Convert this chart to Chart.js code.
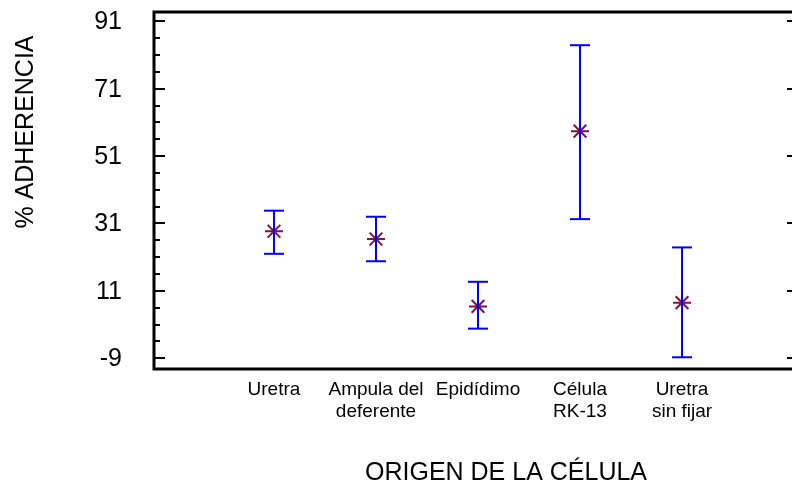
<!DOCTYPE html>
<html>
<head>
<meta charset="utf-8">
<script src="https://cdn.jsdelivr.net/npm/chart.js@4/dist/chart.umd.min.js"></script>
<style>
  html, body { margin: 0; padding: 0; background: #fff; }
  canvas { display: block; }
</style>
</head>
<body>
<canvas id="adhChart" width="792" height="489"></canvas>
<script>
// --- data ---
const categories = ['Uretra', ['Ampula del', 'deferente'], 'Epidídimo', ['Célula', 'RK-13'], ['Uretra', 'sin fijar']];
const means = [28.7, 26.4, 6.4, 58.4, 7.5];
const lower = [22.0, 19.8, -0.2, 32.3, -8.7];
const upper = [34.8, 33.0, 13.7, 83.9, 23.9];
const yTicks = [-9, 11, 31, 51, 71, 91];
const yMinorStep = 5;

const FONT = '"Liberation Sans", Arial, sans-serif';
const BLUE = '#0000ff';
const STAR = '#80104a';

// one small dataset per error bar (low -> high), caps drawn as 'line' points
const barSets = categories.map((c, i) => ({
    type: 'line',
    data: [{ x: i + 1, y: lower[i] }, { x: i + 1, y: upper[i] }],
    borderColor: BLUE,
    borderWidth: 2,
    pointStyle: 'line',
    pointRadius: 10,
    pointBorderColor: BLUE,
    pointBorderWidth: 2,
    pointHoverRadius: 10,
    fill: false,
    tension: 0
}));

const starSet = {
    type: 'scatter',
    data: means.map((m, i) => ({ x: i + 1, y: m })),
    pointStyle: 'star',
    pointRadius: 9,
    pointBorderColor: STAR,
    pointBorderWidth: 2,
    pointHoverRadius: 9
};

// frame, ticks, labels and titles
const framePlugin = {
    id: 'frame',
    afterDraw(chart) {
        const { ctx, chartArea: a, scales } = chart;
        const y = scales.y, x = scales.x;
        ctx.save();
        ctx.strokeStyle = '#000';
        ctx.lineWidth = 3;
        ctx.beginPath();
        ctx.moveTo(chart.width, a.top); ctx.lineTo(a.left, a.top);
        ctx.lineTo(a.left, a.bottom); ctx.lineTo(chart.width, a.bottom);
        ctx.stroke();

        // minor ticks every 5 on the left, major ones on both sides
        ctx.lineWidth = 2;
        ctx.beginPath();
        for (let v = yTicks[0]; v <= yTicks[yTicks.length - 1]; v += yMinorStep) {
            const py = Math.round(y.getPixelForValue(v));
            const major = yTicks.includes(v);
            ctx.moveTo(a.left, py); ctx.lineTo(a.left + (major ? 11 : 6), py);
            if (major) { ctx.moveTo(a.right, py); ctx.lineTo(a.right - 5, py); }
        }
        ctx.stroke();

        // y tick labels
        ctx.fillStyle = '#000';
        ctx.font = '25px ' + FONT;
        ctx.textAlign = 'right';
        ctx.textBaseline = 'middle';
        yTicks.forEach(v => ctx.fillText(String(v), 122, y.getPixelForValue(v) + 1));

        // category labels
        ctx.font = '19px ' + FONT;
        ctx.textAlign = 'center';
        ctx.textBaseline = 'top';
        categories.forEach((c, i) => {
            const lines = Array.isArray(c) ? c : [c];
            const px = x.getPixelForValue(i + 1);
            lines.forEach((t, k) => ctx.fillText(t, px, a.bottom + 11 + k * 22));
        });

        // axis titles
        ctx.font = '25px ' + FONT;
        ctx.textBaseline = 'middle';
        ctx.fillText('ORIGEN DE LA CÉLULA', 506, 473);
        ctx.translate(26, 132);
        ctx.rotate(-Math.PI / 2);
        ctx.fillText('% ADHERENCIA', 0, 0);
        ctx.restore();
    }
};

new Chart(document.getElementById('adhChart'), {
    type: 'scatter',
    data: { datasets: [...barSets, starSet] },
    options: {
        responsive: false,
        animation: false,
        devicePixelRatio: 1,
        layout: { autoPadding: false, padding: { left: 154, top: 12, right: 0, bottom: 120 } },
        plugins: { legend: { display: false }, tooltip: { enabled: false } },
        scales: {
            x: { type: 'linear', display: false, min: -0.176, max: 6.078 },
            y: { type: 'linear', display: false, min: -12.18, max: 93.76 }
        }
    },
    plugins: [framePlugin]
});
</script>
</body>
</html>
